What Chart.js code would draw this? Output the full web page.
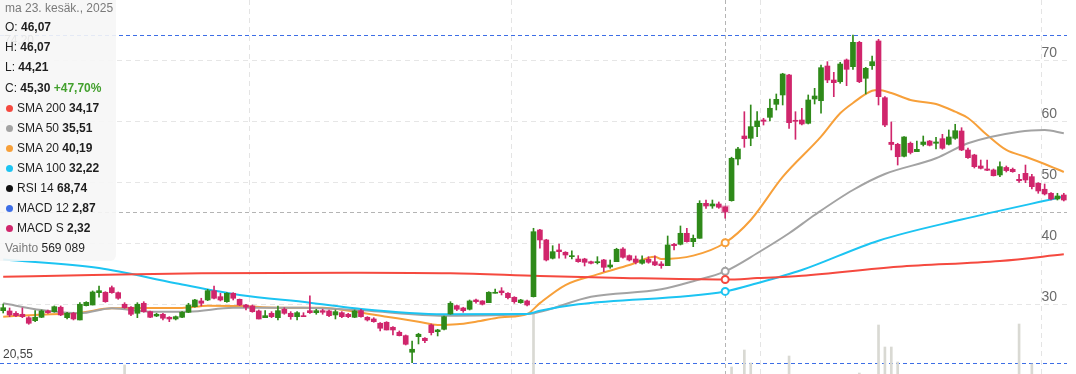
<!DOCTYPE html>
<html><head><meta charset="utf-8">
<script src="https://cdn.jsdelivr.net/npm/chart.js@4.4.1/dist/chart.umd.min.js"></script>
<style>
html,body{margin:0;padding:0;background:#fff;}
#wrap{position:relative;width:1076px;height:374px;overflow:hidden;font-family:"Liberation Sans",Arial,sans-serif;}
#c{position:absolute;left:0;top:0;}
#info{position:absolute;left:0;top:0;width:116px;height:261px;background:rgba(246,246,246,0.9);border-bottom-right-radius:6px;font-size:12px;color:#1e1e1e;}
#info .row{position:absolute;left:5px;height:20px;line-height:20px;white-space:nowrap;}
#info b{font-weight:bold;}
.dot{display:inline-block;width:7px;height:7px;border-radius:50%;margin:0 4px 0 1px;vertical-align:0px;}
.grey{color:#7a7a7a;}
</style></head>
<body>
<div id="wrap">
<canvas id="c" width="1076" height="374"></canvas>
<div id="info">
  <div class="row grey" style="top:-2px">ma 23. kesäk., 2025</div>
  <div class="row" style="top:17px">O: <b id="vO"></b></div>
  <div class="row" style="top:37px">H: <b id="vH"></b></div>
  <div class="row" style="top:57px">L: <b id="vL"></b></div>
  <div class="row" style="top:78px">C: <b id="vC"></b> <b style="color:#43a02e">+47,70%</b></div>
  <div class="row" style="top:98px"><span class="dot" style="background:#f5493f"></span>SMA 200 <b id="v200"></b></div>
  <div class="row" style="top:118px"><span class="dot" style="background:#a3a3a3"></span>SMA 50 <b id="v50"></b></div>
  <div class="row" style="top:138px"><span class="dot" style="background:#f7a03a"></span>SMA 20 <b id="v20"></b></div>
  <div class="row" style="top:158px"><span class="dot" style="background:#1cc4f2"></span>SMA 100 <b id="v100"></b></div>
  <div class="row" style="top:178px"><span class="dot" style="background:#111"></span>RSI 14 <b>68,74</b></div>
  <div class="row" style="top:198px"><span class="dot" style="background:#3d6ee6"></span>MACD 12 <b>2,87</b></div>
  <div class="row" style="top:218px"><span class="dot" style="background:#d0266c"></span>MACD S <b>2,32</b></div>
  <div class="row" style="top:238px"><span class="grey">Vaihto</span> <span id="vV"></span></div>
</div>
</div>
<script>
// ---- categories (trading days) ----
const startDate = '2025-01-07';
const endDate = '2025-09-04';
const holidays = ['2025-01-06','2025-04-18','2025-04-21','2025-05-01','2025-05-29','2025-06-06','2025-06-20'];
const gridMonths = ['2025-03','2025-05','2025-07','2025-09'];
const labels = [];
(function(){
  let d = new Date(startDate + 'T00:00:00Z');
  const e = new Date(endDate + 'T00:00:00Z');
  while (d <= e) {
    const s = d.toISOString().slice(0,10);
    const wd = d.getUTCDay();
    if (wd !== 0 && wd !== 6 && !holidays.includes(s)) labels.push(s);
    d = new Date(d.getTime() + 86400000);
  }
})();

// ---- OHLC ----
const opens = [29.07,29.02,28.64,28.48,27.92,27.43,27.99,29.02,28.91,29.63,
27.92,28.64,27.55,29.89,30.00,32.02,32.08,32.84,32.02,30.12,
29.63,28.64,30.28,28.91,28.20,28.48,27.99,27.71,27.99,28.81,
29.72,30.66,30.82,32.34,31.36,30.54,31.92,30.93,30.00,29.84,
29.02,27.92,28.64,27.92,29.30,28.64,28.09,28.25,29.07,28.74,
29.07,29.02,28.37,28.74,28.48,27.99,29.07,27.99,27.71,27.01,
27.17,26.35,25.53,24.98,22.26,24.81,24.55,26.73,25.63,26.02,
28.53,29.89,29.51,29.30,30.82,30.66,30.38,31.92,32.30,31.92,
31.26,30.38,30.66,31.36,42.28,40.65,37.65,39.01,38.63,37.91,
37.53,37.53,37.09,36.93,37.37,36.23,37.09,39.17,38.08,37.53,
36.83,37.48,37.09,36.72,36.44,39.94,39.94,41.74,40.37,40.92,
46.65,46.21,46.54,46.07,47.08,53.91,57.67,57.30,59.20,60.29,
60.73,62.86,64.39,67.66,60.18,60.29,59.75,63.73,63.45,69.13,
66.84,66.56,70.12,69.02,73.01,67.12,69.18,73.23,63.94,56.64,
56.31,54.35,56.48,55.11,56.28,56.85,56.48,57.23,56.31,57.30,
58.49,55.38,54.56,52.76,52.27,52.11,51.29,52.52,52.22,50.58,
51.56,51.01,49.93,48.95,48.29,47.36,48.01];
const highs = [30.16,29.51,28.91,29.51,28.09,29.07,29.18,29.18,29.84,29.84,
28.81,28.81,30.38,30.54,32.30,33.11,32.18,33.11,32.13,30.38,
29.72,30.38,30.54,29.02,28.64,28.64,28.09,28.20,28.91,30.28,
30.93,31.10,32.57,33.11,31.92,32.02,32.02,30.98,30.12,30.00,
29.18,29.07,28.91,29.84,29.56,28.91,28.91,28.74,31.48,29.30,
29.30,29.18,29.18,28.91,28.64,29.18,29.30,28.09,27.92,27.11,
27.27,26.45,25.75,25.09,24.11,25.37,24.65,26.89,26.02,28.20,
30.54,30.00,29.63,30.82,30.98,30.71,32.18,32.62,32.84,32.02,
31.36,30.93,30.82,42.56,42.40,40.76,39.71,39.99,38.73,38.85,
38.08,37.65,37.21,37.91,37.48,37.37,39.29,39.38,38.19,38.03,
38.03,37.91,38.03,37.09,41.30,40.10,42.94,42.56,41.46,47.08,
47.19,47.19,46.87,46.07,54.20,55.82,61.65,62.75,61.65,60.57,
63.73,64.55,67.94,67.78,61.65,62.21,64.39,65.48,69.30,69.84,
68.10,69.74,70.28,74.20,73.18,68.92,70.77,73.51,64.11,59.97,
56.48,57.56,56.69,56.85,57.67,56.94,57.46,57.95,58.66,59.59,
59.03,55.71,54.68,53.74,53.74,52.27,53.46,52.76,52.43,51.40,
52.92,51.40,50.03,49.81,48.39,48.29,48.29];
const lows = [28.69,28.09,28.09,27.92,26.84,27.27,27.92,28.64,28.81,28.25,
27.71,27.55,27.55,29.84,30.00,31.26,30.44,31.92,30.93,29.46,
28.25,27.92,28.81,27.92,28.09,27.55,27.27,27.55,27.92,28.74,
29.63,29.84,30.71,30.98,30.66,30.44,30.82,29.89,29.18,28.81,
27.71,27.92,27.92,27.55,28.48,27.66,27.55,28.09,28.64,28.48,
28.48,28.09,27.71,27.92,27.92,27.92,27.99,27.38,27.17,25.75,
25.91,25.09,24.93,23.45,20.55,23.62,23.83,25.09,24.93,25.91,
28.48,29.07,28.81,29.18,30.28,30.00,30.38,31.92,31.64,30.98,
30.28,30.28,29.84,31.30,39.29,37.21,37.53,37.65,37.65,37.53,
36.99,36.39,36.72,36.72,35.46,36.01,37.09,37.65,37.21,36.72,
36.67,36.83,36.44,36.01,36.44,39.01,39.83,40.27,39.55,40.92,
45.83,45.83,45.83,44.21,47.00,52.92,55.82,56.08,57.56,59.47,
60.13,61.93,62.75,58.93,57.13,59.47,59.64,62.91,61.39,66.40,
64.11,66.30,65.91,68.59,66.40,64.55,68.59,62.75,59.20,55.38,
52.92,54.23,54.73,55.11,56.04,56.04,55.54,55.49,56.20,57.13,
55.27,53.99,52.43,52.27,51.99,51.12,51.01,51.78,51.73,50.09,
50.03,48.99,48.29,48.01,47.19,47.19,47.03];
const closes = [29.56,28.37,28.25,28.09,27.01,27.99,29.02,28.74,29.72,28.37,
28.64,27.71,30.12,30.44,32.13,32.34,30.54,32.02,31.10,29.56,
28.48,30.12,28.91,27.99,28.48,27.83,27.71,28.09,28.81,30.00,
30.82,30.28,32.34,31.10,30.82,31.92,31.10,30.00,29.63,28.91,
27.71,28.25,28.09,29.07,28.64,28.09,28.74,28.09,28.74,29.07,
28.81,28.25,28.91,28.09,28.09,29.02,28.09,27.55,27.27,26.19,
25.91,25.91,24.98,23.57,22.75,25.21,24.16,25.47,25.91,28.09,
30.28,29.30,29.07,30.66,30.54,30.12,32.08,32.08,32.02,31.20,
30.54,30.82,30.00,42.00,40.65,37.37,38.73,38.73,38.19,38.08,
37.09,36.99,36.83,37.09,36.17,36.55,39.12,37.81,37.37,36.99,
37.37,36.99,36.55,36.44,39.83,39.71,41.74,40.37,40.92,46.65,
46.21,46.54,46.00,45.30,54.02,55.54,57.23,59.20,60.13,60.08,
62.21,63.68,67.82,59.85,60.08,59.64,63.57,64.22,68.86,66.84,
66.40,69.46,68.59,73.01,66.56,68.76,69.84,64.11,59.47,56.28,
54.28,57.51,54.97,55.49,56.69,56.15,56.69,55.66,57.51,58.54,
55.38,54.12,52.65,52.38,52.06,51.17,52.65,52.00,51.83,50.35,
50.47,49.37,48.67,48.18,47.36,47.85,47.19];

// ---- moving averages (read at sample days) ----
const sma200Idx = [0,14,31,56,70,84,97,113,118,125,140,156,166];
const sma200Val = [34.63,34.90,35.19,35.29,35.19,34.75,34.42,34.17,34.40,34.80,36.27,37.21,38.30];
const sma100Idx = [0,15,27,37,48,55,69,82,84,90,113,118,125,137,150,166];
const sma100Val = [37.45,36.06,33.56,31.64,30.38,29.46,28.48,28.53,29.07,30.12,32.22,33.56,35.73,40.53,44.00,47.75];
const sma50Idx = [0,6,12,17,23,29,36,47,56,69,82,92,103,108,113,118,123,127,133,138,146,151,159,163,166];
const sma50Val = [30.28,29.18,28.64,29.46,28.91,28.91,29.56,29.56,29.13,28.25,28.53,31.36,32.57,33.90,35.51,38.47,41.74,44.74,48.83,51.45,54.02,56.48,58.38,58.65,58.11];
const sma20Idx = [0,5,12,17,28,32,37,43,50,55,60,65,68,71,74,78,82,84,88,93,98,102,103,108,113,117,122,128,131,133,136,137,139,142,146,149,151,154,157,160,163,166];
const sma20Val = [28.09,28.37,28.74,29.46,29.51,29.89,29.84,29.56,29.56,28.91,28.09,27.27,26.73,26.84,27.27,27.99,28.53,30.30,33.27,35.02,36.55,37.91,37.53,38.08,40.19,43.92,50.96,57.56,61.39,63.08,65.09,65.20,64.71,63.57,62.91,61.65,60.62,57.84,55.38,54.28,53.09,51.78];

// ---- volume (only visible bars read; hovered day from legend) ----
const volIdx = [19,83,113,114,116,117,123,134,137,138,139,140,159,161];
const volVal = [1225000,3045000,569089,1155000,1750000,1295000,1540000,945000,2625000,1855000,1855000,1330000,2660000,1260000];

const yTicks = [30,40,50,60,70];
const HOVER = labels.indexOf('2025-06-23');

// ---- build library tables ----
const N = labels.length;
function sparse(idx, vals){ const a = new Array(N).fill(null); idx.forEach((k,j)=>{ a[k] = vals[j]; }); return a; }
const UP = '#2f8a1a', DOWN = '#d0266c';
const cColors = closes.map((c,i)=> c >= opens[i] ? UP : DOWN);
const wicks = lows.map((l,i)=>[l, highs[i]]);
const bodies = opens.map((o,i)=>[o, closes[i]]);
const hl = new Array(N).fill(null); hl[HOVER] = [Math.min(opens[HOVER],closes[HOVER]) - 0.2, Math.max(opens[HOVER],closes[HOVER]) + 0.2];
const s200 = sparse(sma200Idx, sma200Val), s100 = sparse(sma100Idx, sma100Val), s50 = sparse(sma50Idx, sma50Val), s20 = sparse(sma20Idx, sma20Val);
const vol = sparse(volIdx, volVal);
const monthStart = [];
labels.forEach((l,i)=>{ const m = l.slice(0,7); if (gridMonths.includes(m) && (i===0 || labels[i-1].slice(0,7)!==m)) monthStart.push(i); });

const fmt = v => v.toFixed(2).replace('.', ',');
document.getElementById('vO').textContent = fmt(opens[HOVER]);
document.getElementById('vH').textContent = fmt(highs[HOVER]);
document.getElementById('vL').textContent = fmt(lows[HOVER]);
document.getElementById('vC').textContent = fmt(closes[HOVER]);
document.getElementById('v200').textContent = fmt(s200[HOVER]);
document.getElementById('v50').textContent = fmt(s50[HOVER]);
document.getElementById('v20').textContent = fmt(s20[HOVER]);
document.getElementById('v100').textContent = fmt(s100[HOVER]);
document.getElementById('vV').textContent = String(vol[HOVER]).replace(/\B(?=(\d{3})+(?!\d))/g, ' ');

function lineDs(label, data, color){
  return { type:'line', label, data, yAxisID:'y', order:2, borderColor:color, borderWidth:2,
    spanGaps:true, cubicInterpolationMode:'monotone',
    pointRadius: data.map((_,i)=> i===HOVER ? 3.5 : 0), pointBackgroundColor:'#fff', pointBorderColor:color, pointBorderWidth:2 };
}

const refLines = {
  id:'refLines',
  beforeDatasetsDraw(chart){
    const {ctx, chartArea:a, scales:{x, y}} = chart;
    ctx.save();
    ctx.lineWidth = 1;
    const seg = (x1,y1,x2,y2)=>{ ctx.beginPath(); ctx.moveTo(x1,y1); ctx.lineTo(x2,y2); ctx.stroke(); };
    ctx.setLineDash([4,3]);
    ctx.strokeStyle = '#b4b4b4';
    const hx = Math.round(x.getPixelForValue(HOVER)) + 0.5;
    seg(hx, a.top, hx, a.bottom);
    const hy = Math.round(y.getPixelForValue(closes[HOVER])) + 0.5;
    seg(a.left, hy, a.right, hy);
    ctx.strokeStyle = '#3d6ee6';
    [Math.max(...highs), Math.min(...lows)].forEach(v=>{ const py = Math.round(y.getPixelForValue(v)) + 0.5; seg(a.left, py, a.right, py); });
    ctx.restore();
  },
  afterDraw(chart){
    const {ctx, scales:{y}} = chart;
    ctx.save();
    ctx.font = '12px "Liberation Sans", Arial, sans-serif';
    ctx.fillStyle = '#444';
    ctx.textBaseline = 'middle';
    const hi = Math.max(...highs), lo = Math.min(...lows);
    ctx.fillText(fmt(hi), 4, y.getPixelForValue(hi) + 6);
    ctx.fillText(fmt(lo), 3, y.getPixelForValue(lo) - 8);
    ctx.restore();
  }
};

new Chart(document.getElementById('c'), {
  type:'bar',
  data:{ labels, datasets:[
    lineDs('SMA 200', s200, '#f5493f'),
    lineDs('SMA 100', s100, '#1cc4f2'),
    lineDs('SMA 50', s50, '#a3a3a3'),
    lineDs('SMA 20', s20, '#f7a03a'),
    { label:'hl', data:hl, yAxisID:'y', grouped:false, barThickness:8, backgroundColor:'rgba(208,38,108,0.3)', order:1 },
    { label:'wick', data:wicks, yAxisID:'y', grouped:false, barThickness:1, backgroundColor:cColors, order:0 },
    { label:'body', data:bodies, yAxisID:'y', grouped:false, barThickness:5, minBarLength:1, backgroundColor:cColors, order:0 },
    { label:'Vaihto', data:vol, yAxisID:'yv', grouped:false, barThickness:2, backgroundColor:'#d9d9d3', order:5 }
  ]},
  options:{
    responsive:false, animation:false, events:[],
    layout:{ padding:{ left:0, right:9, top:0, bottom:0 } },
    plugins:{ legend:{display:false}, tooltip:{enabled:false} },
    scales:{
      x:{ type:'category', offset:true,
        afterFit: s => { s.height = 0; s.paddingLeft = 0; s.paddingRight = 0; },
        ticks:{ display:false, autoSkip:false },
        grid:{ offset:true, drawTicks:false, color: c => monthStart.includes(c.index) ? '#e4e4e4' : 'rgba(0,0,0,0)' },
        border:{ display:false, dash:[5,4] } },
      y:{ position:'right', min:18.7, max:79.94,
        afterBuildTicks: s => { s.ticks = yTicks.map(v=>({value:v})); },
        afterFit: s => { s.width = 0; s.paddingTop = 0; s.paddingBottom = 0; },
        ticks:{ mirror:true, padding:-10, labelOffset:-8, color:'#6b6b6b', font:{ size:14, family:'"Liberation Sans", Arial, sans-serif' } },
        grid:{ drawTicks:false, color:'#e6e6e6' },
        border:{ display:false, dash:[5,4] } },
      yv:{ display:false, min:910000, max:14000000 }
    }
  },
  plugins:[refLines]
});
</script>
</body></html>
